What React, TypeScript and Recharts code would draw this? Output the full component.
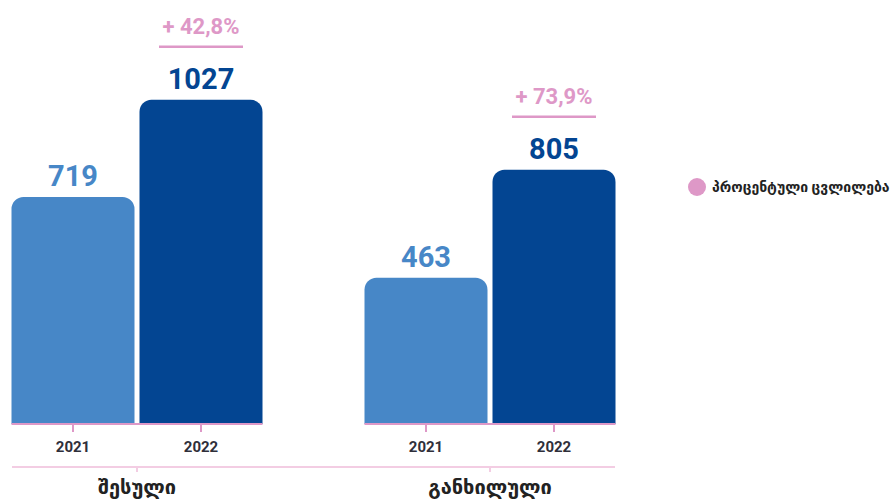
import { Bar, BarChart, LabelList, Legend, XAxis, YAxis } from "recharts";

const GROUPS = ["შესული", "განხილული"];
const YEARS = ["2021", "2022"];
const VALUES_2021 = [719, 463];
const VALUES_2022 = [1027, 805];
const CHANGE_PCT = [42.8, 73.9];
const LEGEND_LABEL = "პროცენტული ცვლილება";

const LIGHT = "#4787C7";
const DARK = "#034592";
const PINK = "#DE98C7";
const PINK_LIGHT = "#F3CDE3";
const INK = "#2f2f3a";
const FONT = "Roboto, 'DejaVu Sans', sans-serif";
const GAP = 5;

const data = GROUPS.map((g, i) => ({
  group: g,
  y2021: VALUES_2021[i],
  y2022: VALUES_2022[i],
  change: CHANGE_PCT[i],
}));

// geometry of a bar as handed to LabelList content (v3 passes viewBox, older passes x/y directly)
function box(p: any) {
  const vb = p.viewBox && p.viewBox.width != null ? p.viewBox : p;
  return { x: +vb.x, y: +vb.y, w: +vb.width, h: +vb.height };
}

/** pink baseline under each year bar, a small tick, and the year below */
function yearBase(year: string, first: boolean) {
  return (p: any) => {
    const { x, y, w, h } = box(p);
    const base = y + h;
    const cx = x + w / 2;
    const x1 = first ? x : x - GAP / 2;
    const x2 = first ? x + w + GAP / 2 : x + w;
    return (
      <g>
        <line x1={x1} x2={x2} y1={base} y2={base} stroke={PINK} strokeWidth={2} />
        <line x1={cx} x2={cx} y1={base} y2={base + 8} stroke={PINK} strokeWidth={2} />
        <text x={cx} y={base + 28} textAnchor="middle" fill={INK} fontSize={15} fontWeight={700} fontFamily={FONT}>
          {year}
        </text>
      </g>
    );
  };
}

function changeLabel(p: any) {
  const { x, y, w } = box(p);
  const cx = x + w / 2;
  const v = Number(p.value);
  return (
    <g>
      <text x={cx} y={y - 66} textAnchor="middle" fill={PINK} fontSize={22} fontWeight={700} fontFamily={FONT}>
        {`+ ${v.toFixed(1).replace(".", ",")}%`}
      </text>
      <line x1={cx - 42} x2={cx + 42} y1={y - 53} y2={y - 53} stroke={PINK} strokeWidth={2.5} />
    </g>
  );
}

function LegendBox() {
  return (
    <div style={{ display: "flex", alignItems: "center", whiteSpace: "nowrap", fontFamily: FONT }}>
      <span style={{ width: 18, height: 18, borderRadius: 9, background: PINK, display: "inline-block", marginRight: 6 }} />
      <span style={{ fontSize: 14, fontWeight: 700, color: "#222" }}>{LEGEND_LABEL}</span>
    </div>
  );
}

export default function App() {
  return (
    <div style={{ position: "absolute", left: 0, top: 0, width: 894, height: 501, overflow: "hidden", background: "#fff" }}>
      <BarChart
        width={894}
        height={501}
        data={data}
        margin={{ top: 45, right: 279, bottom: 0, left: 12 }}
        barSize={123}
        barGap={GAP}
      >
        <XAxis
          xAxisId="b-group"
          dataKey="group"
          height={34}
          axisLine={{ stroke: PINK_LIGHT, strokeWidth: 2 }}
          tickLine={{ stroke: PINK_LIGHT, strokeWidth: 2 }}
          tickSize={5}
          tick={{ fill: "#222", fontSize: 20, fontWeight: 700, fontFamily: FONT, dy: 6 }}
          padding={{ left: -51.5, right: -51.5 }}
        />
        <XAxis
          xAxisId="a-year"
          dataKey="group"
          height={43}
          axisLine={false}
          tickLine={false}
          tick={false}
          padding={{ left: -51.5, right: -51.5 }}
        />
        <YAxis hide domain={[0, 1200]} />
        <Legend
          layout="horizontal"
          verticalAlign="middle"
          align="center"
          wrapperStyle={{ left: 688, top: 178, width: 260 }}
          content={() => <LegendBox />}
        />
        <Bar xAxisId="a-year" dataKey="y2021" name={YEARS[0]} fill={LIGHT} radius={[12, 12, 0, 0]} isAnimationActive={false}>
          <LabelList dataKey="y2021" position="top" offset={11} fill={LIGHT} fontSize={29} fontWeight={700} fontFamily={FONT} />
          <LabelList dataKey="y2021" content={yearBase(YEARS[0], true)} />
        </Bar>
        <Bar xAxisId="a-year" dataKey="y2022" name={YEARS[1]} fill={DARK} radius={[12, 12, 0, 0]} isAnimationActive={false}>
          <LabelList dataKey="y2022" position="top" offset={11} fill={DARK} fontSize={29} fontWeight={700} fontFamily={FONT} />
          <LabelList dataKey="y2022" content={yearBase(YEARS[1], false)} />
          <LabelList dataKey="change" content={changeLabel} />
        </Bar>
      </BarChart>
    </div>
  );
}
